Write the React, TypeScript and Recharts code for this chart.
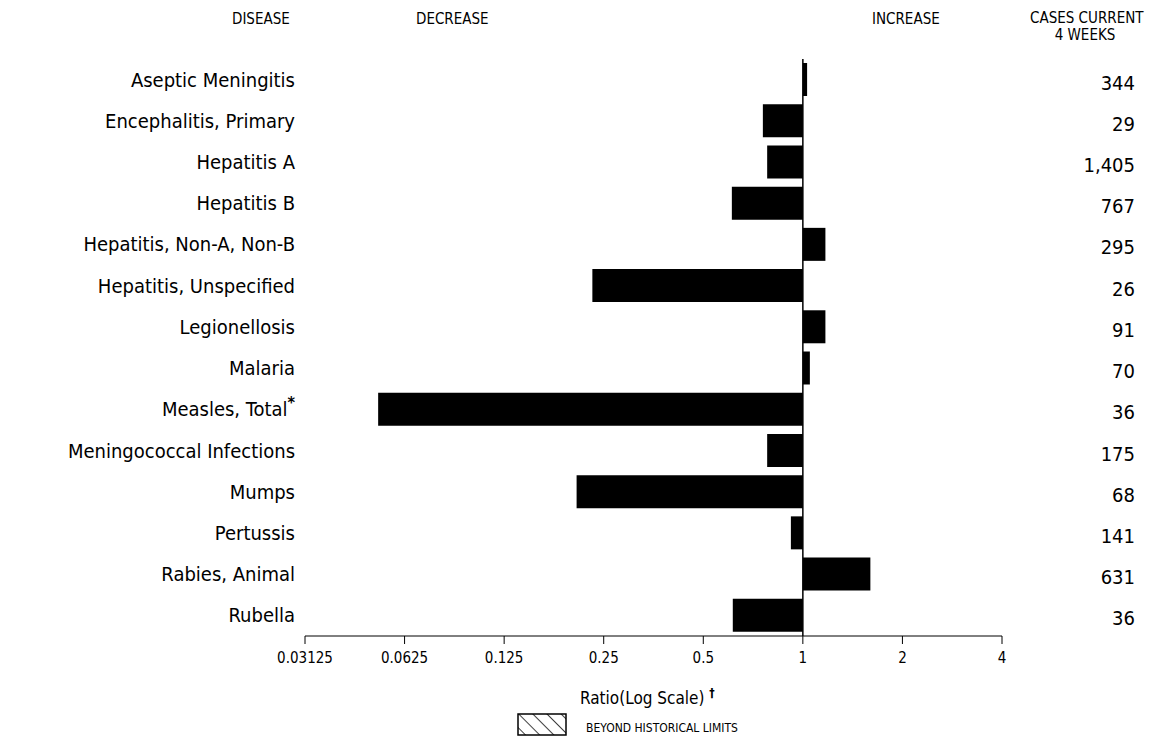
import { Bar, BarChart, ReferenceLine, XAxis, YAxis } from "recharts";

const diseases = [
  "Aseptic Meningitis", "Encephalitis, Primary", "Hepatitis A", "Hepatitis B",
  "Hepatitis, Non-A, Non-B", "Hepatitis, Unspecified", "Legionellosis", "Malaria",
  "Measles, Total", "Meningococcal Infections", "Mumps", "Pertussis",
  "Rabies, Animal", "Rubella",
];
const ratios = [1.03, 0.757, 0.78, 0.61, 1.17, 0.231, 1.17, 1.05, 0.052, 0.78, 0.207, 0.92, 1.6, 0.614];
const cases = ["344", "29", "1,405", "767", "295", "26", "91", "70", "36", "175", "68", "141", "631", "36"];
const tickLabels = ["0.03125", "0.0625", "0.125", "0.25", "0.5", "1", "2", "4"];
const tickPositions = [-5, -4, -3, -2, -1, 0, 1, 2];

const data = diseases.map((d, i) => ({ name: d, value: Math.log2(ratios[i]), cases: cases[i] }));

const FONT = "'DejaVu Sans Condensed', 'DejaVu Sans', sans-serif";

const LeftTick = ({ x, y, payload }: any) => (
  <text x={x - 2} y={y} dy={7} textAnchor="end" fontSize={20} fontFamily={FONT} fill="#000">
    {payload.value === "Measles, Total" ? (
      <>
        {payload.value}
        <tspan dy={-8} fontSize={16} fontWeight="bold">*</tspan>
      </>
    ) : payload.value}
  </text>
);

const RightTick = ({ x, y, index }: any) => (
  <text x={x + 125} y={y} dy={10} textAnchor="end" fontSize={20} fontFamily={FONT} fill="#000">
    {cases[index]}
  </text>
);

const header = (text: string, left: number, top: number) => (
  <div style={{ position: "absolute", left, top, fontFamily: FONT, fontSize: 15, lineHeight: "16px", whiteSpace: "nowrap" }}>
    {text}
  </div>
);

export default function App() {
  return (
    <div style={{ position: "absolute", left: 0, top: 0, width: 1151, height: 739, background: "#fff" }}>
      {header("DISEASE", 232, 11)}
      {header("DECREASE", 416, 11)}
      {header("INCREASE", 872, 11)}
      <div style={{ position: "absolute", left: 1030, top: 10, width: 110, fontFamily: FONT, fontSize: 15, textAlign: "center", lineHeight: "17px", whiteSpace: "nowrap" }}>
        CASES CURRENT<br />4 WEEKS
      </div>
      <BarChart
        width={1151}
        height={739}
        data={data}
        layout="vertical"
        margin={{ top: 59, right: 0, bottom: 73, left: 0 }}
        barCategoryGap={4}
      >
        <XAxis
          type="number"
          domain={[-5, 2]}
          ticks={tickPositions}
          tickFormatter={(v: number) => tickLabels[tickPositions.indexOf(v)]}
          tick={{ fontSize: 15, fontFamily: FONT, fill: "#000" }}
          axisLine={{ stroke: "#000" }}
          tickLine={{ stroke: "#000" }}
          tickSize={8}
          tickMargin={8}
        />
        <YAxis yAxisId="l" type="category" dataKey="name" width={305} tick={<LeftTick />} axisLine={false} tickLine={false} interval={0} />
        <YAxis yAxisId="r" orientation="right" type="category" dataKey="name" width={149} tick={<RightTick />} axisLine={false} tickLine={false} interval={0} />
        <ReferenceLine yAxisId="l" x={0} stroke="#000" strokeWidth={1.5} />
        <Bar yAxisId="l" dataKey="value" fill="#000" isAnimationActive={false} />
      </BarChart>
      <div style={{ position: "absolute", left: 580, top: 686, fontFamily: FONT, fontSize: 17 }}>
        Ratio(Log Scale) <sup style={{ fontSize: 12, fontWeight: "bold" }}>†</sup>
      </div>
      <svg style={{ position: "absolute", left: 516, top: 712 }} width={52} height={26}>
        <defs>
          <pattern id="h" width="10" height="10" patternUnits="userSpaceOnUse" patternTransform="rotate(-45)">
            <line x1="0" y1="0" x2="0" y2="10" stroke="#000" strokeWidth="1.5" />
          </pattern>
        </defs>
        <rect x={2} y={2} width={48} height={21} fill="url(#h)" stroke="#000" strokeWidth={1.5} />
      </svg>
      <div style={{ position: "absolute", left: 586, top: 721, fontFamily: FONT, fontSize: 12 }}>BEYOND HISTORICAL LIMITS</div>
    </div>
  );
}
